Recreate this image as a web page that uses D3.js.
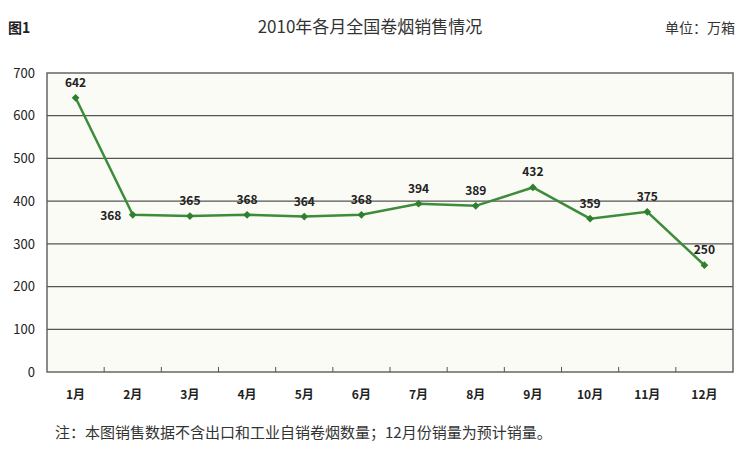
<!DOCTYPE html>
<html><head><meta charset="utf-8">
<script src="https://cdn.jsdelivr.net/npm/d3@7"></script>
<style>body{margin:0;background:#fff}text{font-family:"Noto Sans CJK SC","DejaVu Serif",serif}</style>
</head><body>
<svg id="vis" width="750" height="453"></svg>
<script>
// data
const months = ["1月","2月","3月","4月","5月","6月","7月","8月","9月","10月","11月","12月"];
const sales = [642,368,365,368,364,368,394,389,432,359,375,250];
const yTicks = [0,100,200,300,400,500,600,700];

const svg = d3.select("#vis");
const m = {left:47, right:733, top:73, bottom:372};

const x = d3.scaleBand().domain(months).range([m.left, m.right]);
const y = d3.scaleLinear().domain([0,700]).range([m.bottom, m.top]);

svg.append("rect").attr("x",m.left).attr("y",m.top)
  .attr("width",m.right-m.left).attr("height",m.bottom-m.top)
  .attr("fill","#fbfbf5").attr("stroke","#666").attr("stroke-width",1.5);

svg.selectAll(".grid").data(yTicks.slice(1,-1)).join("line")
  .attr("x1",m.left).attr("x2",m.right)
  .attr("y1",d=>y(d)).attr("y2",d=>y(d))
  .attr("stroke","#555").attr("stroke-width",1.2);

svg.append("g").attr("transform",`translate(${m.left},0)`)
  .call(d3.axisLeft(y).tickValues(yTicks).tickSize(0).tickPadding(12))
  .call(g=>g.select(".domain").remove())
  .selectAll("text").attr("font-size",13).attr("fill","#222").attr("font-family","DejaVu Sans");

// x ticks between categories
svg.selectAll(".xt").data(months.slice(1)).join("line")
  .attr("x1",d=>x(d)).attr("x2",d=>x(d))
  .attr("y1",m.bottom).attr("y2",m.bottom-5).attr("stroke","#555");

svg.selectAll(".xl").data(months).join("text")
  .attr("x",d=>x(d)+x.bandwidth()/2).attr("y",m.bottom+27)
  .attr("text-anchor","middle").attr("font-size",12).attr("font-weight","bold")
  .attr("fill","#222").text(d=>d);

const cx = (d,i)=>x(months[i])+x.bandwidth()/2;
svg.append("path").datum(sales)
  .attr("d",d3.line().x(cx).y(d=>y(d)))
  .attr("fill","none").attr("stroke","#3c8c3c").attr("stroke-width",2.5);

svg.selectAll(".pt").data(sales).join("path")
  .attr("transform",(d,i)=>`translate(${cx(d,i)},${y(d)}) rotate(45)`)
  .attr("d",d3.symbol(d3.symbolSquare,30)).attr("fill","#2f7f2f");

svg.selectAll(".lb").data(sales).join("text")
  .attr("x",(d,i)=>i===1?cx(d,i)-22:cx(d,i))
  .attr("y",(d,i)=>i===1?y(d)+5:y(d)-11)
  .attr("text-anchor","middle").attr("font-size",12).attr("font-weight","bold")
  .attr("fill","#222").attr("font-family","DejaVu Serif").text(d=>d);

svg.append("text").attr("x",370).attr("y",33).attr("text-anchor","middle")
  .attr("font-size",17).attr("fill","#333").text("2010年各月全国卷烟销售情况");
svg.append("text").attr("x",8).attr("y",33).attr("font-size",14)
  .attr("font-weight","bold").attr("fill","#222").text("图1");
svg.append("text").attr("x",735).attr("y",33).attr("text-anchor","end")
  .attr("font-size",14).attr("fill","#333").text("单位：万箱");
svg.append("text").attr("x",55).attr("y",438).attr("font-size",15)
  .attr("fill","#333").text("注：本图销售数据不含出口和工业自销卷烟数量；12月份销量为预计销量。");
</script>
</body></html>
